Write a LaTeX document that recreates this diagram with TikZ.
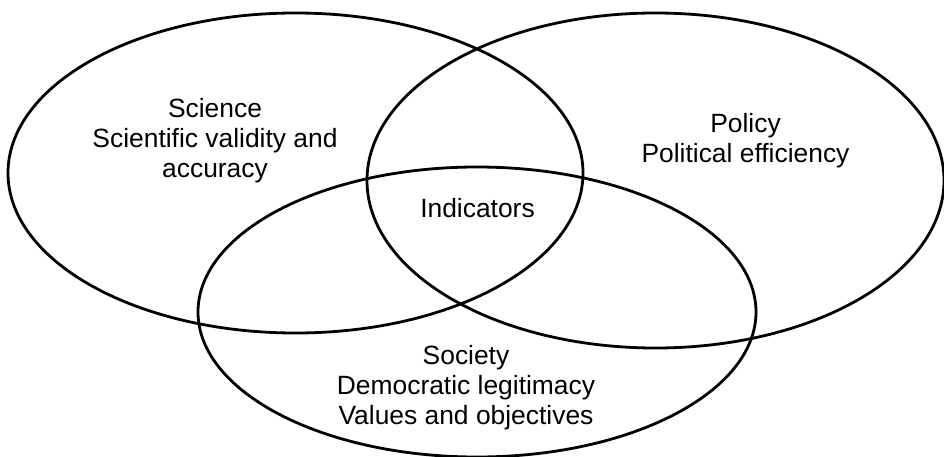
\documentclass[tikz,border=0pt]{standalone}
\usepackage{fontspec}
\setmainfont{Liberation Sans}
\usetikzlibrary{shapes.geometric}

\begin{document}
\begin{tikzpicture}[x=1pt,y=-1pt,
             ring/.style={draw, ellipse, line width=2.8pt, inner sep=0pt},
             setname/.style={align=center, inner sep=0pt,
                font=\fontsize{26.4}{30}\selectfont},
          ]
          \useasboundingbox (0,0) rectangle (944,457);

          \node at (295.5,173) (sci) [ring, minimum width=575pt, minimum height=320pt] {};
          \node at (655.5,180.5) (pol) [ring, minimum width=577pt, minimum height=335pt] {};
          \node at (477,312) (soc) [ring, minimum width=558pt, minimum height=290pt] {};

          \node at (215,140.6) (scitxt) [setname] {Science\\Scientific validity and\\accuracy};
          \node at (745.5,140.8) (poltxt) [setname] {Policy\\Political efficiency};
          \node at (477.5,208.5) (ind) [setname] {Indicators};
          \node at (466,388) (soctxt) [setname] {Society\\Democratic legitimacy\\Values and objectives};

       \end{tikzpicture}
\end{document}
